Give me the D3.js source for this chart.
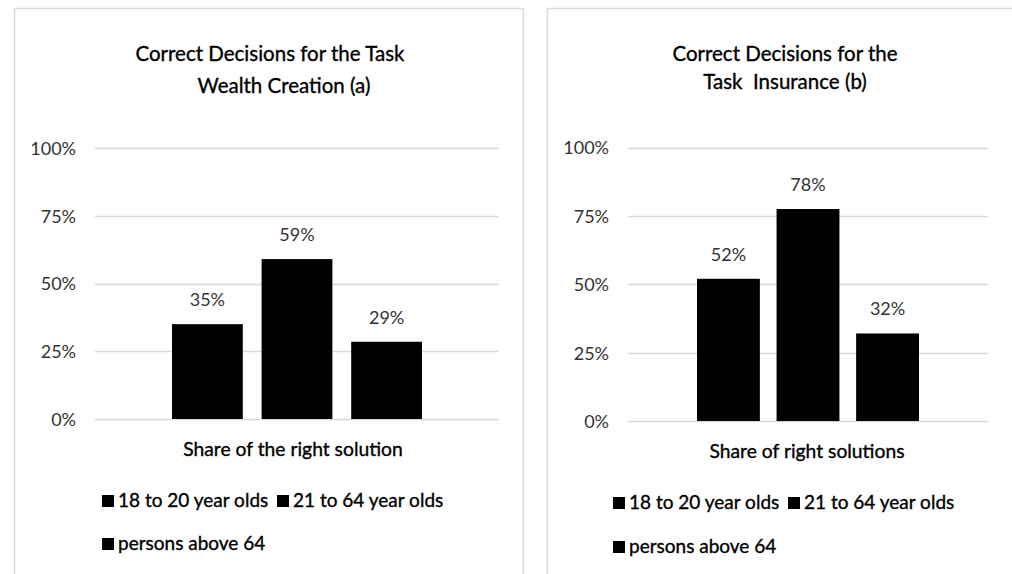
<!DOCTYPE html>
<html><head><meta charset="utf-8">
<script src="https://cdn.jsdelivr.net/npm/d3@7"></script>
<style>
html,body{margin:0;padding:0;background:#fff;}
svg{display:block;font-family:Lato,"Open Sans",sans-serif;}
.dark{stroke:#000;stroke-width:0.35px;paint-order:fill;}
</style></head>
<body>
<svg id="chart" width="1012" height="574"></svg>
<script>
// ---- data ----
const categories = ["18 to 20 year olds", "21 to 64 year olds", "persons above 64"];
const wealthValues = [0.35, 0.59, 0.285];
const wealthLabels = ["35%", "59%", "29%"];
const insuranceValues = [0.52, 0.775, 0.32];
const insuranceLabels = ["52%", "78%", "32%"];
const yTickValues = [0, 0.25, 0.5, 0.75, 1];
const yTickLabels = ["0%", "25%", "50%", "75%", "100%"];
const wealthTitle = ["Correct Decisions for the Task", "Wealth Creation (a)"];
const insuranceTitle = ["Correct Decisions for the", "Task  Insurance (b)"];
const wealthAxisLabel = "Share of the right solution";
const insuranceAxisLabel = "Share of right solutions";

// ---- layout ----
const svg = d3.select("#chart");
const panels = [
  {frame:[14,8,509,580], plot:[95,499], y:[419,148], bars:[172,422], tickX:76,
   title: wealthTitle, titleX:[270,284], titleY:[61,93],
   values: wealthValues, labels: wealthLabels, axisLabel: wealthAxisLabel, axisX:293, axisY:456,
   legendX:[102,277,102], legendY:[507,507,550]},
  {frame:[547,8,480,580], plot:[628,988], y:[421,147.5], bars:[697,919], tickX:609,
   title: insuranceTitle, titleX:[785,785], titleY:[61,89],
   values: insuranceValues, labels: insuranceLabels, axisLabel: insuranceAxisLabel, axisX:807, axisY:458,
   legendX:[613,788,613], legendY:[509,509,553]}
];

panels.forEach(p => {
  const g = svg.append("g");
  g.append("rect").attr("x", p.frame[0] + 0.5).attr("y", p.frame[1] + 0.5)
    .attr("width", p.frame[2]).attr("height", p.frame[3])
    .attr("fill", "#fff").attr("stroke", "#d9d9d9").attr("stroke-width", 1.5);

  const y = d3.scaleLinear().domain([0, 1]).range(p.y);
  const x = d3.scaleBand().domain(categories).range(p.bars).paddingInner(0.21).paddingOuter(0);

  // gridlines
  g.selectAll(".grid").data(yTickValues).join("line")
    .attr("x1", p.plot[0]).attr("x2", p.plot[1])
    .attr("y1", d => Math.round(y(d)) + 0.5).attr("y2", d => Math.round(y(d)) + 0.5)
    .attr("stroke", "#d9d9d9").attr("stroke-width", 1.3);

  // y axis labels
  const axis = d3.axisLeft(y).tickValues(yTickValues)
    .tickFormat((d, i) => yTickLabels[i]).tickSize(0).tickPadding(0);
  const ag = g.append("g").attr("transform", `translate(${p.tickX},0)`).call(axis);
  ag.select(".domain").remove();
  ag.selectAll("text").attr("font-family", "Lato").attr("font-size", 18)
    .attr("fill", "#333").attr("dy", "0.36em");

  // bars
  g.selectAll(".bar").data(p.values).join("rect")
    .attr("x", (d, i) => x(categories[i])).attr("width", x.bandwidth())
    .attr("y", d => y(d)).attr("height", d => y(0) - y(d))
    .attr("fill", "#000");

  // data labels
  g.selectAll(".lbl").data(p.values).join("text")
    .attr("x", (d, i) => x(categories[i]) + x.bandwidth() / 2)
    .attr("y", d => y(d) - 18)
    .attr("text-anchor", "middle").attr("font-size", 18).attr("fill", "#333")
    .text((d, i) => p.labels[i]);

  // title
  p.title.forEach((t, i) => {
    g.append("text").attr("x", p.titleX[i]).attr("y", p.titleY[i])
      .attr("class", "dark").style("white-space", "pre")
      .attr("text-anchor", "middle").attr("font-size", 20.5).attr("fill", "#000")
      .text(t);
  });

  // axis title
  g.append("text").attr("x", p.axisX).attr("y", p.axisY).attr("text-anchor", "middle")
    .attr("class", "dark").attr("font-size", 19.3).attr("fill", "#000").text(p.axisLabel);

  // legend
  categories.forEach((c, i) => {
    g.append("rect").attr("x", p.legendX[i]).attr("y", p.legendY[i] - 12)
      .attr("width", 12).attr("height", 12).attr("fill", "#000");
    g.append("text").attr("x", p.legendX[i] + 16).attr("y", p.legendY[i])
      .attr("class", "dark").attr("font-size", 19).attr("fill", "#000").text(c);
  });
});
</script>
</body></html>
